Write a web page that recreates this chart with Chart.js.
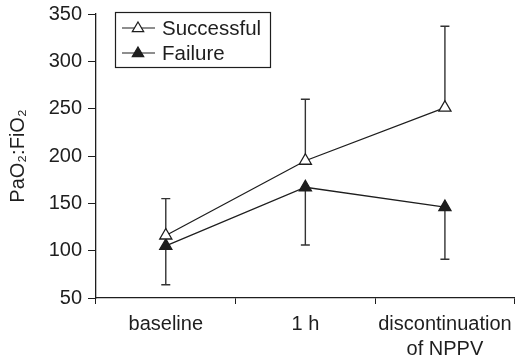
<!DOCTYPE html>
<html>
<head>
<meta charset="utf-8">
<script src="https://cdn.jsdelivr.net/npm/chart.js@4/dist/chart.umd.min.js"></script>
<style>
  html, body { margin: 0; padding: 0; background: #fff; }
  #wrap { width: 523px; height: 361px; }
</style>
</head>
<body>
<div id="wrap"><canvas id="chart" width="523" height="361"></canvas></div>
<script>
const timepoints = ['baseline', '1 h', ['discontinuation', 'of NPPV']];
const successMean = [116, 195, 251];
const successUpper = [155, 260, 337];
const failureMean = [105, 167, 146];
const failureLower = [64, 106, 91];
const yTicks = [50, 100, 150, 200, 250, 300, 350];

const ink = '#1e1e1e';
const fontFace = "'Liberation Sans', Arial, Helvetica, sans-serif";

// SD whiskers: successful group goes up, failure group goes down
const errorBars = {
    id: 'errorBars',
    beforeDatasetsDraw(chart) {
        const ctx = chart.ctx;
        const x = chart.scales.x, y = chart.scales.y;
        const pairs = [[successMean, successUpper], [failureMean, failureLower]];
        ctx.save();
        ctx.strokeStyle = '#333';
        ctx.lineWidth = 1.4;
        pairs.forEach(function (p) {
            p[0].forEach(function (m, i) {
                const px = x.getPixelForValue(i);
                const y0 = y.getPixelForValue(m);
                const y1 = y.getPixelForValue(p[1][i]);
                ctx.beginPath();
                ctx.moveTo(px, y0);
                ctx.lineTo(px, y1);
                ctx.moveTo(px - 4.5, y1);
                ctx.lineTo(px + 4.5, y1);
                ctx.stroke();
            });
        });
        ctx.restore();
    }
};

// boxed legend in the upper left corner of the plot
const boxLegend = {
    id: 'boxLegend',
    afterDraw(chart) {
        const ctx = chart.ctx;
        const left = 115, top = 12, w = 155, h = 55;
        ctx.save();
        ctx.strokeStyle = ink;
        ctx.lineWidth = 1.2;
        ctx.strokeRect(left + 0.5, top + 0.5, w, h);
        ctx.font = '20.5px ' + fontFace;
        ctx.textBaseline = 'middle';
        chart.data.datasets.forEach(function (ds, i) {
            const cy = top + 16 + i * 25;
            const cx = left + 23, r = 6;
            ctx.strokeStyle = ink;
            ctx.lineWidth = 1.2;
            ctx.beginPath();
            ctx.moveTo(left + 7, cy);
            ctx.lineTo(left + 40, cy);
            ctx.stroke();
            ctx.fillStyle = ds.pointBackgroundColor;
            ctx.beginPath();
            ctx.moveTo(cx, cy - r);
            ctx.lineTo(cx + r * 0.95, cy + r * 0.6);
            ctx.lineTo(cx - r * 0.95, cy + r * 0.6);
            ctx.closePath();
            ctx.fill();
            ctx.stroke();
            ctx.fillStyle = ink;
            ctx.fillText(ds.label, left + 47, cy + 1);
        });
        ctx.restore();
    }
};

new Chart(document.getElementById('chart'), {
    type: 'line',
    data: {
        labels: timepoints,
        datasets: [
            {
                label: 'Successful',
                data: successMean,
                borderColor: ink,
                borderWidth: 1.3,
                pointStyle: 'triangle',
                pointRadius: 7,
                pointBorderWidth: 1.3,
                pointBackgroundColor: '#ffffff',
                pointBorderColor: ink,
                tension: 0
            },
            {
                label: 'Failure',
                data: failureMean,
                borderColor: ink,
                borderWidth: 1.3,
                pointStyle: 'triangle',
                pointRadius: 7,
                pointBorderWidth: 1.3,
                pointBackgroundColor: ink,
                pointBorderColor: ink,
                tension: 0
            }
        ]
    },
    options: {
        responsive: false,
        animation: false,
        layout: { padding: { top: 2, right: 4, left: 2, bottom: 0 } },
        plugins: {
            legend: { display: false },
            tooltip: { enabled: false }
        },
        scales: {
            x: {
                offset: true,
                grid: {
                    offset: true,
                    drawOnChartArea: false,
                    drawTicks: true,
                    tickLength: 6,
                    color: ink
                },
                border: { color: ink, width: 1.3 },
                ticks: {
                    color: ink,
                    padding: 8,
                    font: { family: fontFace, size: 20, lineHeight: 1.25 },
                    maxRotation: 0,
                    autoSkip: false
                },
                afterFit: function (scale) { scale.height = 63; }
            },
            y: {
                min: 50,
                max: 350,
                afterBuildTicks: function (scale) {
                    scale.ticks = yTicks.map(function (v) { return { value: v }; });
                },
                grid: {
                    drawOnChartArea: false,
                    drawTicks: true,
                    tickLength: 8,
                    color: ink
                },
                border: { color: ink, width: 1.3 },
                ticks: {
                    color: ink,
                    padding: 6,
                    font: { family: fontFace, size: 20, lineHeight: 0.8 }
                },
                title: {
                    display: true,
                    text: 'PaO₂:FiO₂',
                    color: ink,
                    padding: { top: 4, bottom: 0 },
                    font: { family: fontFace, size: 20 }
                },
                afterFit: function (scale) { scale.width = 94; }
            }
        }
    },
    plugins: [errorBars, boxLegend]
});
</script>
</body>
</html>
